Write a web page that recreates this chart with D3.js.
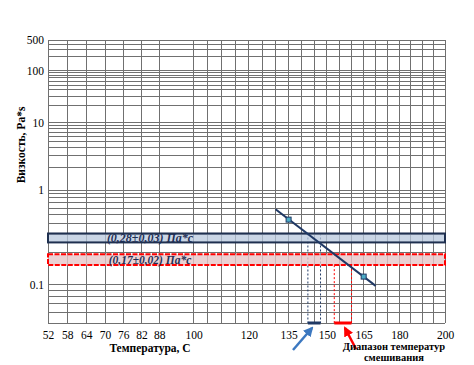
<!DOCTYPE html>
<html>
<head>
<meta charset="utf-8">
<script src="https://cdn.jsdelivr.net/npm/d3@7"></script>
<style>
  body { margin: 0; background: #fff; }
  svg text { font-family: "Liberation Serif", "DejaVu Serif", serif !important; }
</style>
</head>
<body>
<script>
// temperature, C
const xGrid = [52, 58, 64, 70, 76, 82, 88, 100, 105, 110, 115, 120, 125, 130, 135, 140,
               145, 150, 155, 160, 165, 170, 175, 180, 185, 190, 195, 200];
const xTicks = [52, 58, 64, 70, 76, 82, 88, 100, 120, 135, 150, 165, 180, 200];

// viscosity, Pa*s
const yGrid = [0.05, 0.06, 0.07, 0.08, 0.09, 0.1, 0.2, 0.3, 0.4, 0.5, 0.6, 0.7, 0.8, 0.9,
               1, 2, 3, 4, 5, 6, 7, 8, 9, 10, 20, 30, 40, 50, 60, 70, 80, 90,
               100, 200, 300, 400, 500];
const yTicks = [500, 100, 10, 1, 0.1];

// viscosity line and measured points
const lineT = [130, 170];
const lineV = [0.58, 0.098];
const pointT = [135, 165];
const pointV = [0.44, 0.118];

// target viscosity bands and resulting mixing temperature ranges
const bandLabel = ["(0,28±0,03) Па*с", "(0,17±0,02) Па*с"];
const bandLow = [0.25, 0.15];
const bandHigh = [0.31, 0.19];
const rangeLow = [142.5, 153];
const rangeHigh = [147.5, 160];

let width = 474;
let height = 365;
let pLeft = 48, pRight = 445, pTop = 40, pBottom = 323;
let serif = "'Liberation Serif', 'DejaVu Serif', serif";

let svg = d3.select("body").append("svg")
            .attr("width", width)
            .attr("height", height)
            .style("font-family", serif);

// log T (K) on x, log log (mPa*s) on y
let xK = d3.scaleLog().domain([52 + 273.15, 200 + 273.15]).range([pLeft, pRight]);
let x = t => xK(t + 273.15);
let ll = v => Math.log10(Math.log10(v * 1000));
let yL = d3.scaleLinear().domain([ll(0.05), ll(500)]).range([pBottom, pTop]);
let y = v => yL(ll(v));

// grid
svg.append("g").selectAll("line").data(yGrid).join("line")
   .attr("x1", pLeft).attr("x2", pRight)
   .attr("y1", d => y(d)).attr("y2", d => y(d))
   .attr("stroke", "#707070").attr("stroke-width", 1)
   .attr("shape-rendering", "crispEdges");

svg.append("g").selectAll("line").data(xGrid).join("line")
   .attr("x1", d => x(d)).attr("x2", d => x(d))
   .attr("y1", pTop).attr("y2", pBottom)
   .attr("stroke", "#707070").attr("stroke-width", 1)
   .attr("shape-rendering", "crispEdges");

// axes (labels only)
let xAxis = d3.axisBottom(xK)
              .tickValues(xTicks.map(t => t + 273.15))
              .tickFormat(d => Math.round(d - 273.15))
              .tickSize(0).tickPadding(8);
let gx = svg.append("g").attr("transform", `translate(0,${pBottom})`).call(xAxis)
            .attr("font-family", serif).attr("font-size", 11.5);
gx.select(".domain").remove();
gx.selectAll("text").attr("fill", "#000");

let yAxis = d3.axisLeft(yL)
              .tickValues(yTicks.map(ll))
              .tickFormat((d, i) => yTicks[i])
              .tickSize(0).tickPadding(4);
let gy = svg.append("g").attr("transform", `translate(${pLeft},0)`).call(yAxis)
            .attr("font-family", serif).attr("font-size", 11.5);
gy.select(".domain").remove();
gy.selectAll("text").attr("fill", "#000");

// axis titles
svg.append("text").attr("x", 150).attr("y", 352)
   .attr("text-anchor", "middle").attr("font-size", 11.5).attr("font-weight", "bold")
   .text("Температура, C");

svg.append("text").attr("transform", "translate(25,145) rotate(-90)")
   .attr("text-anchor", "middle").attr("font-size", 11.5).attr("font-weight", "bold")
   .text("Визкость, Pa*s");

// dashed drop lines
let dropColor = ["#1f3864", "#ff0000"];
bandLabel.forEach((b, i) => {
  [rangeLow[i], rangeHigh[i]].forEach(t => {
    svg.append("line")
       .attr("x1", x(t)).attr("x2", x(t))
       .attr("y1", i == 0 ? y(bandHigh[i]) : y(bandLow[i])).attr("y2", pBottom)
       .attr("stroke", dropColor[i]).attr("stroke-width", 1)
       .attr("stroke-dasharray", "2,2");
  });
  svg.append("line")
     .attr("x1", x(rangeLow[i])).attr("x2", x(rangeHigh[i]))
     .attr("y1", pBottom).attr("y2", pBottom)
     .attr("stroke", dropColor[i]).attr("stroke-width", 3);
});

// bands
svg.append("rect")
   .attr("x", pLeft).attr("y", y(bandHigh[0]))
   .attr("width", pRight - pLeft).attr("height", y(bandLow[0]) - y(bandHigh[0]))
   .attr("fill", "#b8c8dd").attr("fill-opacity", 0.75)
   .attr("stroke", "#1f3050").attr("stroke-width", 2);

svg.append("rect")
   .attr("x", pLeft).attr("y", y(bandHigh[1]))
   .attr("width", pRight - pLeft).attr("height", y(bandLow[1]) - y(bandHigh[1]))
   .attr("fill", "#e6c6c8").attr("fill-opacity", 0.8)
   .attr("stroke", "#ff0000").attr("stroke-width", 2)
   .attr("stroke-dasharray", "5,1.5");

let bandFont = [12, 11.5];
bandLabel.forEach((b, i) => {
  svg.append("text")
     .attr("x", 150).attr("y", (y(bandLow[i]) + y(bandHigh[i])) / 2 + 4)
     .attr("text-anchor", "middle").attr("font-size", bandFont[i])
     .attr("font-weight", "bold").attr("font-style", "italic")
     .attr("fill", "#1f2f55")
     .text(b);
});

// viscosity line
let line = d3.line().x(d => x(d[0])).y(d => y(d[1]));
svg.append("path")
   .attr("d", line(d3.zip(lineT, lineV)))
   .attr("fill", "none").attr("stroke", "#1f3864").attr("stroke-width", 2);

svg.append("g").selectAll("rect").data(d3.zip(pointT, pointV)).join("rect")
   .attr("x", d => x(d[0]) - 2.5).attr("y", d => y(d[1]) - 2.5)
   .attr("width", 5).attr("height", 5)
   .attr("fill", "#4bacc6").attr("stroke", "#1f3864").attr("stroke-width", 1);

// arrows
let defs = svg.append("defs");
[["blueHead", "#3c78c0"], ["redHead", "#ff0000"]].forEach(m => {
  defs.append("marker").attr("id", m[0])
      .attr("viewBox", "0 0 10 10").attr("refX", 8).attr("refY", 5)
      .attr("markerWidth", 4).attr("markerHeight", 4).attr("orient", "auto")
      .append("path").attr("d", "M0,0 L10,5 L0,10 z").attr("fill", m[1]);
});

svg.append("line").attr("x1", 293).attr("y1", 350).attr("x2", 312).attr("y2", 328)
   .attr("stroke", "#3c78c0").attr("stroke-width", 2.5)
   .attr("marker-end", "url(#blueHead)");

svg.append("line").attr("x1", 356).attr("y1", 349).attr("x2", 345).attr("y2", 328)
   .attr("stroke", "#ff0000").attr("stroke-width", 2.5)
   .attr("marker-end", "url(#redHead)");

// note
svg.append("text").attr("x", 394).attr("y", 350)
   .attr("text-anchor", "middle").attr("font-size", 10.5).attr("font-weight", "bold")
   .text("Диапазон температур");
svg.append("text").attr("x", 394).attr("y", 361)
   .attr("text-anchor", "middle").attr("font-size", 10.5).attr("font-weight", "bold")
   .text("смешивания");
</script>
</body>
</html>
